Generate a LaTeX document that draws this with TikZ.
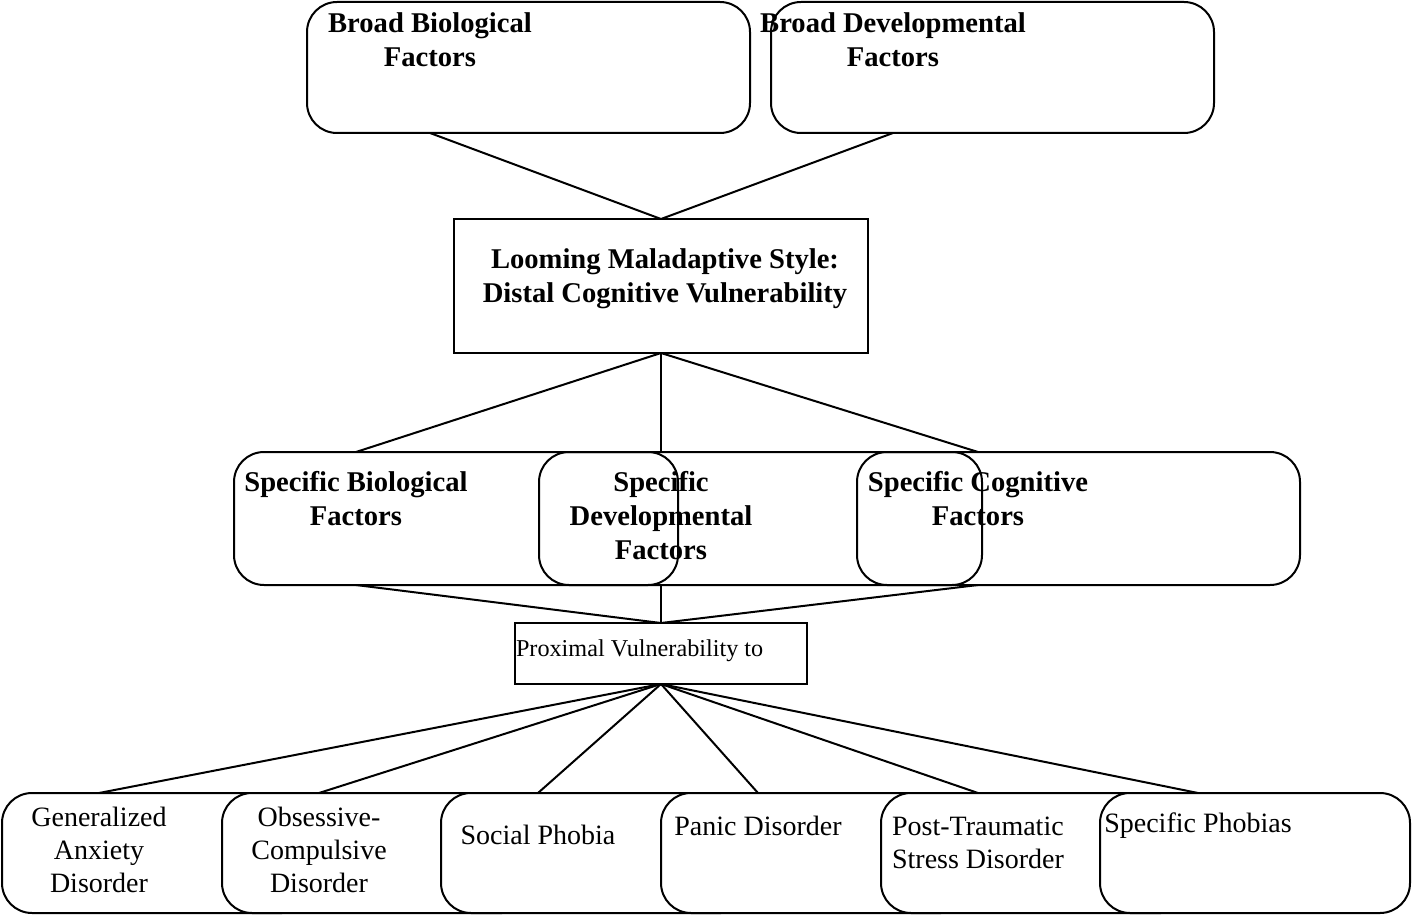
\documentclass[tikz,border=0pt]{standalone}
\usepackage{fontspec}
\setmainfont{Liberation Serif}
\begin{document}
\begin{tikzpicture}[x=0.5pt,y=-0.5pt,
  line width=1pt,
  rbox/.style={draw,rounded corners=15pt,inner sep=0pt,outer sep=0pt},
  sbox/.style={draw,inner sep=0pt,outer sep=0pt},
  fillbox/.style={rbox,fill=white,minimum width=155pt,minimum height=60pt},
  boldtxt/.style={align=center,inner sep=0pt,font=\fontsize{14.3}{17}\selectfont\bfseries},
  plaintxt/.style={align=center,inner sep=0pt,font=\fontsize{14}{16.5}\selectfont},
  conn/.style={line width=1pt}]
\useasboundingbox (0,0) rectangle (1413,915);
% top boxes
\node[rbox,minimum width=221.5pt,minimum height=65.5pt] (bb) at (528.5,67.5) {};
\node[rbox,minimum width=221.5pt,minimum height=65.5pt] (bd) at (992.5,67.5) {};
\node[boldtxt] (bbt) at (430,40) {Broad Biological\\Factors};
\node[boldtxt] (bdt) at (893,40) {Broad Developmental\\Factors};
% looming
\node[sbox,minimum width=207pt,minimum height=67pt] (loom) at (661,286) {};
\node[boldtxt] (loomt) at (665,279) {Looming Maladaptive Style:\\Distal Cognitive Vulnerability};
% specific row
\node[rbox,minimum width=533pt,minimum height=66.5pt] (row) at (767,518.5) {};
\node[rbox,minimum width=69.5pt,minimum height=66.5pt] (sd) at (608.5,518.5) {};
\node[rbox,minimum width=62.5pt,minimum height=66.5pt] (sc) at (919.5,518.5) {};
\node[boldtxt] (sbt) at (356,499) {Specific Biological\\Factors};
\node[boldtxt] (sdt) at (661,516) {Specific\\Developmental\\Factors};
\node[boldtxt] (sct) at (978,499) {Specific Cognitive\\Factors};
% proximal
\node[sbox,minimum width=146pt,minimum height=30.5pt] (prox) at (661,653.5) {};
\node[anchor=west,inner sep=0pt,font=\fontsize{12.1}{14}\selectfont] (proxt) at (515,651) {Proximal Vulnerability to};
% connectors top
\draw[conn] (bbt |- bb.south) -- (loom.north);
\draw[conn] (bdt |- bd.south) -- (loom.north);
\draw[conn] (loom.south) -- (sbt |- row.north);
\draw[conn] (loom.south) -- (sdt |- row.north);
\draw[conn] (loom.south) -- (sct |- row.north);
\draw[conn] (sbt |- row.south) -- (prox.north);
\draw[conn] (sdt |- row.south) -- (prox.north);
\draw[conn] (sct |- row.south) -- (prox.north);
% bottom boxes
\node[fillbox] (b1) at (157,853) {};
\node[fillbox] (b2) at (377,853) {};
\node[fillbox] (b3) at (596,853) {};
\node[fillbox] (b4) at (816,853) {};
\node[fillbox] (b5) at (1036,853) {};
\node[fillbox] (b6) at (1255,853) {};
\node[plaintxt] (t1) at (99,850) {Generalized\\Anxiety\\Disorder};
\node[plaintxt] (t2) at (319,850) {Obsessive-\\Compulsive\\Disorder};
\node[plaintxt] (t3) at (538,835) {Social Phobia};
\node[plaintxt] (t4) at (758,826) {Panic Disorder};
\node[plaintxt,align=left] (t5) at (978,843) {Post-Traumatic\\Stress Disorder};
\node[plaintxt] (t6) at (1198,826) {Specific Phobias};
\draw[conn] (prox.south) -- (t1 |- b1.north);
\draw[conn] (prox.south) -- (t2 |- b2.north);
\draw[conn] (prox.south) -- (t3 |- b3.north);
\draw[conn] (prox.south) -- (t4 |- b4.north);
\draw[conn] (prox.south) -- (t5 |- b5.north);
\draw[conn] (prox.south) -- (t6 |- b6.north);
\end{tikzpicture}
\end{document}
